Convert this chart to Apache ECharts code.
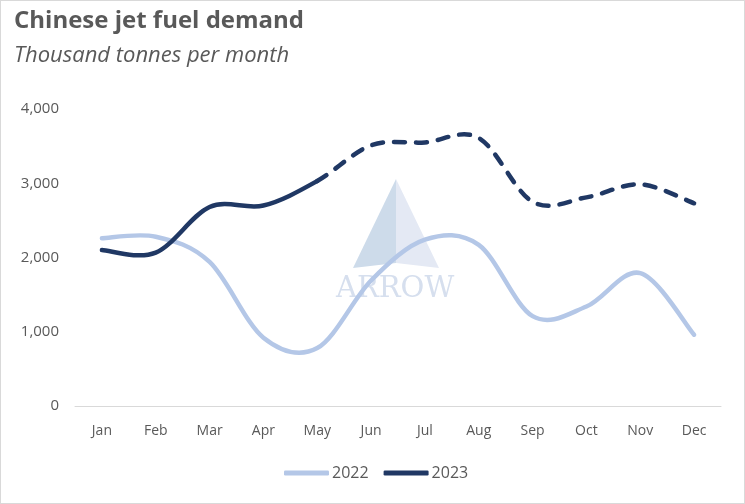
<!DOCTYPE html>
<html><head><meta charset="utf-8">
<script src="https://cdn.jsdelivr.net/npm/echarts@6/dist/echarts.min.js"></script>
<style>html,body{margin:0;padding:0;background:#fff}#c{width:745px;height:504px;box-sizing:border-box;border:1px solid #d9d9d9}</style>
</head><body><div id="c"></div>
<script>
const categories = ['Jan','Feb','Mar','Apr','May','Jun','Jul','Aug','Sep','Oct','Nov','Dec'];
const values2022 = [2260, 2280, 1940, 920, 780, 1690, 2240, 2170, 1210, 1340, 1790, 960];
const values2023 = [2100, 2065, 2680, 2700, 3030, 3510, 3550, 3610, 2750, 2810, 2985, 2730];
const dashFrom2023 = 4; // solid Jan–May, dashed from May on
const yTicks = [0, 1000, 2000, 3000, 4000];

const C2022 = '#b4c7e7';
const C2023 = '#203864';

// Excel-style smoothed line (Catmull-Rom Bezier), positioned by the chart's own axes via api.coord
function smoothPath(pts, from, to) {
  let d = 'M' + pts[from][0] + ' ' + pts[from][1];
  for (let i = from; i < to; i++) {
    const p0 = pts[i - 1] || pts[i], p1 = pts[i], p2 = pts[i + 1], p3 = pts[i + 2] || pts[i + 1];
    const c1x = p1[0] + (p2[0] - p0[0]) / 6, c1y = p1[1] + (p2[1] - p0[1]) / 6;
    const c2x = p2[0] - (p3[0] - p1[0]) / 6, c2y = p2[1] - (p3[1] - p1[1]) / 6;
    d += ' C' + c1x + ' ' + c1y + ' ' + c2x + ' ' + c2y + ' ' + p2[0] + ' ' + p2[1];
  }
  return d;
}

function lineSeries(name, values, color, dashFrom) {
  return {
    name: name, type: 'custom', coordinateSystem: 'cartesian2d',
    data: values.map((v, i) => [i, v]),
    encode: { x: 0, y: 1 },
    itemStyle: { color: color },
    z: 3,
    renderItem: function (params, api) {
      if (params.dataIndex !== 0) return null;
      const pts = values.map((v, i) => api.coord([i, v]));
      const last = pts.length - 1;
      const children = [];
      const solidEnd = dashFrom == null ? last : dashFrom;
      children.push({ type: 'path', shape: { pathData: smoothPath(pts, 0, solidEnd) },
        style: { fill: null, stroke: color, lineWidth: 4.5, lineCap: 'round', lineJoin: 'round' } });
      if (dashFrom != null) {
        children.push({ type: 'path', shape: { pathData: smoothPath(pts, dashFrom, last) },
          style: { fill: null, stroke: color, lineWidth: 4.5, lineCap: 'round', lineDash: [11, 11] } });
      }
      return { type: 'group', children: children };
    }
  };
}

const chart = echarts.init(document.getElementById('c'));
const font = '"Open Sans", "Noto Sans", sans-serif';
chart.setOption({
  animation: false,
  textStyle: { fontFamily: font },
  title: [
    { text: 'Chinese jet fuel demand', left: 8, top: 3,
      textStyle: { fontFamily: font, fontSize: 24, fontWeight: 'bold', color: '#595959' } },
    { text: 'Thousand tonnes per month', left: 8, top: 39,
      textStyle: { fontFamily: font, fontSize: 22, fontStyle: 'italic', fontWeight: 'normal', color: '#595959' } }
  ],
  graphic: [
    { type: 'polygon', z: -1, shape: { points: [[395,178],[352,267],[395,262]] }, style: { fill: '#cddbea' } },
    { type: 'polygon', z: -1, shape: { points: [[395,178],[438,267],[395,262]] }, style: { fill: '#e4e9f4' } },
    { type: 'text', z: -1, left: 335, top: 274, style: { text: 'ARROW', font: '29px "DejaVu Serif", serif', fill: '#d6dfee' } }
  ],
  grid: { left: 74, right: 23, top: 108, bottom: 97 },
  legend: {
    top: 464, left: 283, padding: 0, itemWidth: 45, itemHeight: 5, itemGap: 15,
    icon: 'roundRect',
    textStyle: { fontSize: 16, color: '#595959', fontFamily: font, padding: [0, 0, 0, -2] },
    data: ['2022', '2023']
  },
  xAxis: {
    type: 'category', data: categories, boundaryGap: true,
    axisLine: { lineStyle: { color: '#d9d9d9', width: 1 } },
    axisTick: { show: false },
    axisLabel: { color: '#595959', fontSize: 14, margin: 18, fontFamily: font }
  },
  yAxis: {
    type: 'value', min: yTicks[0], max: yTicks[yTicks.length - 1], interval: 1000,
    splitLine: { show: false },
    axisLine: { show: false }, axisTick: { show: false },
    axisLabel: { color: '#595959', fontSize: 15, margin: 16, fontFamily: font,
      formatter: v => v.toLocaleString('en-US') }
  },
  series: [
    lineSeries('2022', values2022, C2022, null),
    lineSeries('2023', values2023, C2023, dashFrom2023)
  ]
});
</script></body></html>
